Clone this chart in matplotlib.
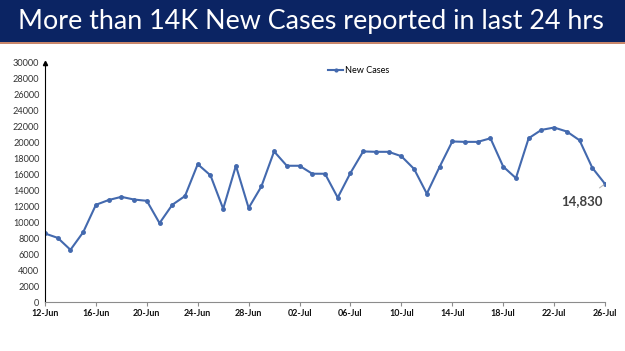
import matplotlib.pyplot as plt
import matplotlib.patches as patches
import numpy as np

plt.rcParams['font.family'] = ['Lato', 'DejaVu Sans']

dates = ['12-Jun', '13-Jun', '14-Jun', '15-Jun', '16-Jun', '17-Jun', '18-Jun', '19-Jun',
         '20-Jun', '21-Jun', '22-Jun', '23-Jun', '24-Jun', '25-Jun', '26-Jun', '27-Jun',
         '28-Jun', '29-Jun', '30-Jun', '01-Jul', '02-Jul', '03-Jul', '04-Jul', '05-Jul',
         '06-Jul', '07-Jul', '08-Jul', '09-Jul', '10-Jul', '11-Jul', '12-Jul', '13-Jul',
         '14-Jul', '15-Jul', '16-Jul', '17-Jul', '18-Jul', '19-Jul', '20-Jul', '21-Jul',
         '22-Jul', '23-Jul', '24-Jul', '25-Jul', '26-Jul']
new_cases = [8600, 8050, 6550, 8760, 12200, 12800, 13200, 12860,
             12700, 9900, 12200, 13300, 17300, 15900, 11700, 17100,
             11800, 14500, 18900, 17100, 17100, 16100, 16100, 13100,
             16200, 18900, 18850, 18850, 18300, 16700, 13600, 16950,
             20150, 20100, 20100, 20550, 17000, 15550, 20550, 21600,
             21900, 21400, 20300, 16850, 14830]
tick_labels = dates[::4]
yticks = list(range(0, 30001, 2000))

fig = plt.figure(figsize=(6.25, 3.51), dpi=100)

# title banner
fig.patches.append(patches.Rectangle((0, 1 - 42 / 351), 1, 42 / 351, transform=fig.transFigure,
                                     facecolor='#0B2463', edgecolor='none', zorder=0))
fig.patches.append(patches.Rectangle((0, 1 - 44 / 351), 1, 2 / 351, transform=fig.transFigure,
                                     facecolor='#C8866A', edgecolor='none', zorder=0))
fig.text(311 / 625, 1 - 21 / 351, 'More than 14K New Cases reported in last 24 hrs', color='white',
         fontsize=19.4, ha='center', va='center')

ax = fig.add_axes([45 / 625, 1 - 302 / 351, 560 / 625, 239 / 351])
x = np.arange(len(new_cases))
ax.plot(x, new_cases, color='#4369AE', linewidth=1.5, marker='o', markersize=2.5,
        label='New Cases')

ax.set_xlim(0, len(new_cases) - 1)
ax.set_ylim(0, 30000)
ax.set_xticks(x[::4])
ax.set_xticklabels(tick_labels, fontsize=6.4, fontweight='bold', color='#111111')
ax.set_yticks(yticks)
ax.set_yticklabels([str(v) for v in yticks], fontsize=6.6, color='#333333')

for s in ['top', 'right']:
    ax.spines[s].set_visible(False)
ax.spines['bottom'].set_color('#8C8C8C')
ax.spines['left'].set_color('black')
ax.tick_params(axis='y', length=0, pad=4)
ax.tick_params(axis='x', length=3, color='#8C8C8C', pad=2)
ax.plot(0, 30000, marker='^', color='black', markersize=3, clip_on=False,
        transform=ax.transData)

ax.legend(loc='upper center', bbox_to_anchor=(0.56, 1.02), frameon=False, fontsize=6.6,
          handlelength=1.6, handletextpad=0.2, markerscale=0.8)

ax.annotate(f'{new_cases[-1]:,}', xy=(x[-1], new_cases[-1]), xytext=(x[-1] - 1.8, 12700),
            fontsize=9.5, fontweight='bold', color='#404040', ha='center', va='center',
            arrowprops=dict(arrowstyle='-', color='#BBBBBB', lw=0.8, shrinkA=5, shrinkB=1))

fig.savefig('out.png', dpi=100)
